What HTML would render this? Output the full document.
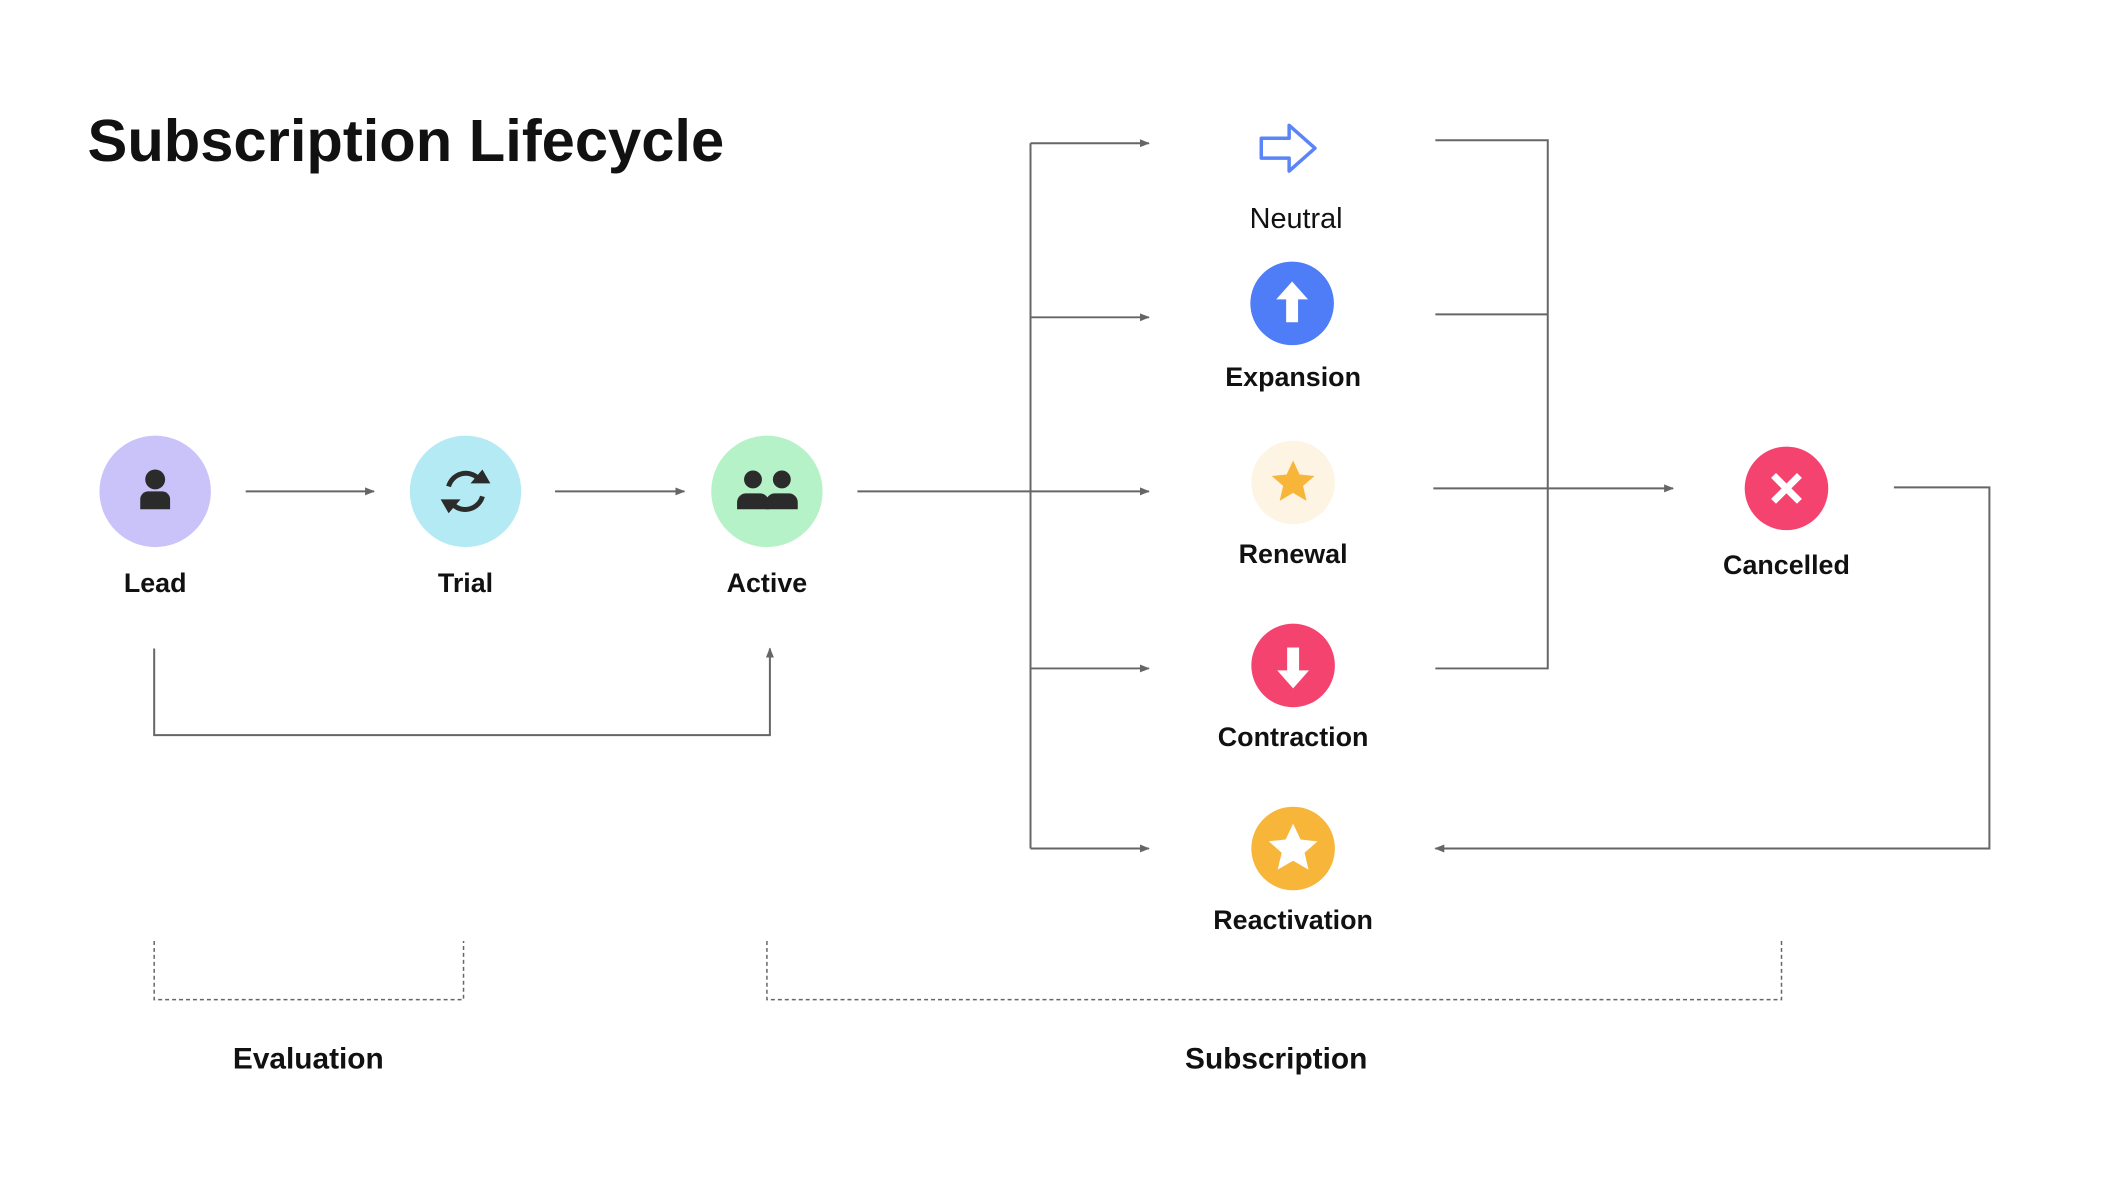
<!DOCTYPE html>
<html><head><meta charset="utf-8"><style>
html,body{margin:0;padding:0;background:#fff;}
svg{display:block;}
text{font-family:"Liberation Sans",sans-serif;fill:#111;}
</style></head><body>
<svg width="2118" height="1186" viewBox="0 0 2118 1186" xmlns="http://www.w3.org/2000/svg">
<defs>
<marker id="ah" viewBox="0 0 10 10" refX="9" refY="5" markerWidth="10" markerHeight="10" orient="auto-start-reverse" markerUnits="userSpaceOnUse">
<path d="M0,1 L10,5 L0,9 z" fill="#666"/></marker>
</defs>
<rect width="2118" height="1186" fill="#fff"/>
<g transform="scale(0.9947)">
<text x="88" y="162" font-size="60" font-weight="bold">Subscription Lifecycle</text>

<g stroke="#666" stroke-width="2" fill="none">
<line x1="247" y1="494" x2="376" y2="494" marker-end="url(#ah)"/>
<line x1="558" y1="494" x2="688" y2="494" marker-end="url(#ah)"/>
<line x1="862" y1="494" x2="1155" y2="494" marker-end="url(#ah)"/>
<polyline points="155,652 155,739 774,739 774,652" marker-end="url(#ah)"/>
<line x1="1036" y1="144" x2="1036" y2="853"/>
<line x1="1036" y1="144" x2="1155" y2="144" marker-end="url(#ah)"/>
<line x1="1036" y1="319" x2="1155" y2="319" marker-end="url(#ah)"/>
<line x1="1036" y1="672" x2="1155" y2="672" marker-end="url(#ah)"/>
<line x1="1036" y1="853" x2="1155" y2="853" marker-end="url(#ah)"/>
<polyline points="1443,141 1556,141 1556,672 1443,672"/>
<line x1="1443" y1="316" x2="1556" y2="316"/>
<line x1="1441" y1="491" x2="1682" y2="491" marker-end="url(#ah)"/>
<polyline points="1904,490 2000,490 2000,853 1443,853" marker-end="url(#ah)"/>
</g>
<g stroke="#666" stroke-width="1.5" fill="none" stroke-dasharray="4,3">
<polyline points="155,946 155,1005 466,1005 466,946"/>
<polyline points="771,946 771,1005 1791,1005 1791,946"/>
</g>

<circle cx="156" cy="494" r="56" fill="#c9c3f9"/>
<circle cx="156" cy="482" r="10" fill="#2b2b2b"/>
<path d="M141,512 v-10 a8,8 0 0 1 8,-8 h14 a8,8 0 0 1 8,8 v10 z" fill="#2b2b2b"/>
<text x="156" y="595" font-size="27" font-weight="bold" text-anchor="middle">Lead</text>

<circle cx="468" cy="494" r="56" fill="#b4eaf4"/>
<g stroke="#2b2b2b" stroke-width="5" fill="none">
<path d="M451,489 a18,18 0 0 1 30,-8"/>
<path d="M485,499 a18,18 0 0 1 -30,8"/>
</g>
<path d="M473,486 l20,0 l-8,-14 z" fill="#2b2b2b"/>
<path d="M463,502 l-20,0 l8,14 z" fill="#2b2b2b"/>
<text x="468" y="595" font-size="27" font-weight="bold" text-anchor="middle">Trial</text>

<circle cx="771" cy="494" r="56" fill="#b5f2c8"/>
<circle cx="757" cy="482" r="9" fill="#2b2b2b"/><circle cx="786" cy="482" r="9" fill="#2b2b2b"/>
<path d="M741,512 v-7 a9,9 0 0 1 9,-9 h14 a9,9 0 0 1 9,9 v7 z" fill="#2b2b2b"/>
<path d="M770,512 v-7 a9,9 0 0 1 9,-9 h14 a9,9 0 0 1 9,9 v7 z" fill="#2b2b2b"/>
<text x="771" y="595" font-size="27" font-weight="bold" text-anchor="middle">Active</text>

<path d="M1268,139 h28 v-13 l26,23 l-26,23 v-13 h-28 z" fill="none" stroke="#5a84f7" stroke-width="3.5" stroke-linejoin="round"/>
<text x="1303" y="229" font-size="29" text-anchor="middle">Neutral</text>

<circle cx="1299" cy="305" r="42" fill="#4f7cf7"/>
<path d="M1299,283 l16,18 h-10 v23 h-12 v-23 h-10 z" fill="#fff"/>
<text x="1300" y="388" font-size="27" font-weight="bold" text-anchor="middle">Expansion</text>

<circle cx="1300" cy="485" r="42" fill="#fdf4e3"/>
<path d="M1300,463 l6.5,14 l15,1.5 l-11.5,10 l3.5,15 l-13.5,-8 l-13.5,8 l3.5,-15 l-11.5,-10 l15,-1.5 z" fill="#f7b53a"/>
<text x="1300" y="566" font-size="27" font-weight="bold" text-anchor="middle">Renewal</text>

<circle cx="1300" cy="669" r="42" fill="#f5436f"/>
<path d="M1300,692 l16,-18 h-10 v-23 h-12 v23 h-10 z" fill="#fff"/>
<text x="1300" y="750" font-size="27" font-weight="bold" text-anchor="middle">Contraction</text>

<circle cx="1300" cy="853" r="42" fill="#f7b53a"/>
<path d="M1300,828 l7.5,16 l17,1.8 l-13,11.5 l4,17 l-15.5,-9 l-15.5,9 l4,-17 l-13,-11.5 l17,-1.8 z" fill="#fff"/>
<text x="1300" y="934" font-size="27" font-weight="bold" text-anchor="middle">Reactivation</text>

<circle cx="1796" cy="491" r="42" fill="#f5436f"/>
<g stroke="#fff" stroke-width="7"><line x1="1783" y1="478" x2="1809" y2="504"/><line x1="1809" y1="478" x2="1783" y2="504"/></g>
<text x="1796" y="577" font-size="27" font-weight="bold" text-anchor="middle">Cancelled</text>

<text x="310" y="1074" font-size="30" font-weight="bold" text-anchor="middle">Evaluation</text>
<text x="1283" y="1074" font-size="30" font-weight="bold" text-anchor="middle">Subscription</text>
</g>
</svg>
</body></html>
